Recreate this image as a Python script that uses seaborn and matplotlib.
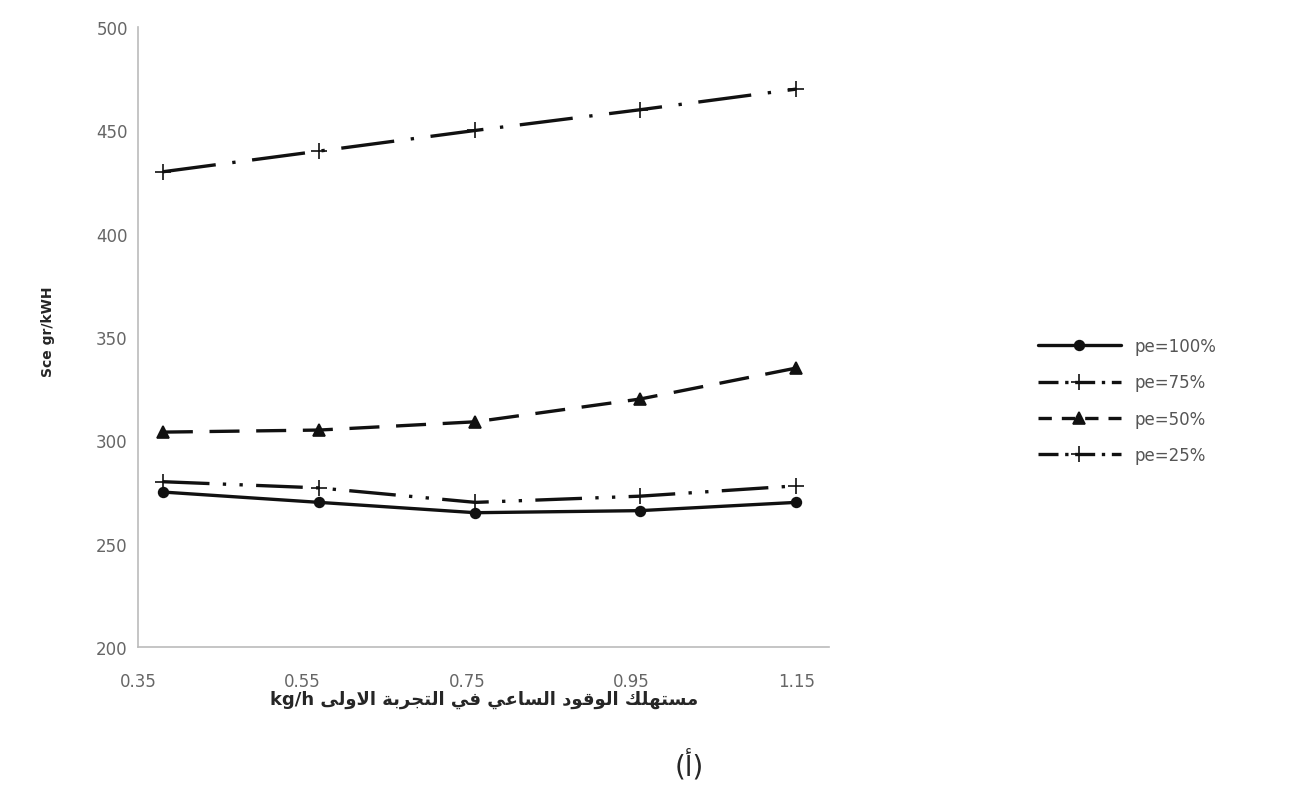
import matplotlib
matplotlib.use("Agg")
import matplotlib.pyplot as plt
import seaborn as sns
import pandas as pd
from matplotlib.lines import Line2D

# data
fuel_rate = [0.38, 0.57, 0.76, 0.96, 1.15]
pe_100 = [275, 270, 265, 266, 270]
pe_75 = [280, 277, 270, 273, 278]
pe_50 = [304, 305, 309, 320, 335]
pe_25 = [430, 440, 450, 460, 470]
series_names = ["pe=100%", "pe=75%", "pe=50%", "pe=25%"]
x_ticks = [0.35, 0.55, 0.75, 0.95, 1.15]
y_ticks = [200, 250, 300, 350, 400, 450, 500]

xlabel_ar = "مستهلك الوقود الساعي في التجربة الاولى"
xlabel_unit = "kg/h"
panel_ar = "(أ)"
ylabel = "Sce gr/kWH"

# minimal arabic shaping (matplotlib does no shaping / bidi)
FORMS = {  # isolated, final, initial, medial
    "ا": (0xFE8D, 0xFE8E), "ب": (0xFE8F, 0xFE90, 0xFE91, 0xFE92),
    "ة": (0xFE93, 0xFE94), "ت": (0xFE95, 0xFE96, 0xFE97, 0xFE98),
    "ج": (0xFE9D, 0xFE9E, 0xFE9F, 0xFEA0), "د": (0xFEA9, 0xFEAA),
    "ر": (0xFEAD, 0xFEAE), "س": (0xFEB1, 0xFEB2, 0xFEB3, 0xFEB4),
    "ع": (0xFEC9, 0xFECA, 0xFECB, 0xFECC), "ف": (0xFED1, 0xFED2, 0xFED3, 0xFED4),
    "ق": (0xFED5, 0xFED6, 0xFED7, 0xFED8), "ك": (0xFED9, 0xFEDA, 0xFEDB, 0xFEDC),
    "ل": (0xFEDD, 0xFEDE, 0xFEDF, 0xFEE0), "م": (0xFEE1, 0xFEE2, 0xFEE3, 0xFEE4),
    "ه": (0xFEE9, 0xFEEA, 0xFEEB, 0xFEEC), "و": (0xFEED, 0xFEEE),
    "ى": (0xFEEF, 0xFEF0), "ي": (0xFEF1, 0xFEF2, 0xFEF3, 0xFEF4),
}


def shape_word(w):
    out = []
    i = 0
    while i < len(w):
        c = w[i]
        prev_joins = i > 0 and len(FORMS.get(w[i - 1], ())) == 4
        if c == "ل" and i + 1 < len(w) and w[i + 1] == "ا":
            out.append(chr(0xFEFC if prev_joins else 0xFEFB))
            i += 2
            continue
        f = FORMS.get(c)
        if f is None:
            out.append(c)
            i += 1
            continue
        next_ok = i + 1 < len(w) and w[i + 1] in FORMS and len(f) == 4
        if prev_joins and next_ok:
            out.append(chr(f[3]))
        elif prev_joins:
            out.append(chr(f[1]))
        elif next_ok:
            out.append(chr(f[2]))
        else:
            out.append(chr(f[0]))
        i += 1
    return "".join(out)


def visual(text):
    words = [shape_word(w) for w in text.split(" ")]
    return " ".join(w[::-1] for w in words[::-1])


rows = []
for name, vals in zip(series_names, [pe_100, pe_75, pe_50, pe_25]):
    for x, y in zip(fuel_rate, vals):
        rows.append({"fuel": x, "sce": y, "series": name})
df = pd.DataFrame(rows)

sns.set_style("white")
plt.rcParams["font.family"] = ["DejaVu Sans"]

fig = plt.figure(figsize=(13.16, 8.03), dpi=100)
ax = fig.add_axes([0.105, 0.193, 0.525, 0.772])

dashes = {"pe=100%": None, "pe=75%": (14, 4, 1, 4, 1, 4),
          "pe=50%": (9, 5), "pe=25%": (16, 5, 1, 5)}
markers = {"pe=100%": "o", "pe=75%": "+", "pe=50%": "^", "pe=25%": "+"}
sizes = {"pe=100%": 7, "pe=75%": 11, "pe=50%": 8, "pe=25%": 11}
ink = "#111111"

for name in series_names:
    sub = df[df.series == name]
    sns.lineplot(data=sub, x="fuel", y="sce", ax=ax, color=ink, lw=2.4,
                 marker=markers[name], markersize=sizes[name],
                 markeredgewidth=1.2, markeredgecolor=ink, legend=False)
    if dashes[name]:
        ax.lines[-1].set_dashes(dashes[name])

ax.set_xlim(0.35, 1.19)
ax.set_ylim(200, 500)
ax.set_xticks(x_ticks)
ax.set_xticklabels([f"{t:.2f}" for t in x_ticks])
ax.set_yticks(y_ticks)
for s in ["top", "right"]:
    ax.spines[s].set_visible(False)
for s in ["left", "bottom"]:
    ax.spines[s].set_color("#bbbbbb")
    ax.spines[s].set_linewidth(1.2)
ax.tick_params(axis="both", colors="#bbbbbb", labelcolor="#666666",
               labelsize=12, length=4, direction="out")
ax.tick_params(axis="x", pad=14)

ax.set_ylabel(ylabel, fontsize=10, fontweight="bold")
ax.yaxis.set_label_coords(-0.12, 0.51)
ax.set_xlabel(xlabel_unit + " " + visual(xlabel_ar), fontsize=13,
              fontweight="bold", labelpad=0)
fig.text(0.524, 0.045, panel_ar, fontsize=20, ha="center", va="center")

handles = []
for name in series_names:
    h = Line2D([], [], color=ink, lw=2.4, marker=markers[name],
               markersize=sizes[name], markeredgewidth=1.2)
    if dashes[name]:
        h.set_dashes((6, 2, 1, 2) if name != "pe=50%" else (4, 3))
    handles.append(h)
leg = fig.legend(handles, series_names, loc="center left",
                 bbox_to_anchor=(0.777, 0.5), frameon=False, fontsize=12,
                 labelspacing=1.1, handlelength=5.0, handletextpad=0.8)
for t in leg.get_texts():
    t.set_color("#555555")

fig.savefig("out.png", dpi=100)
